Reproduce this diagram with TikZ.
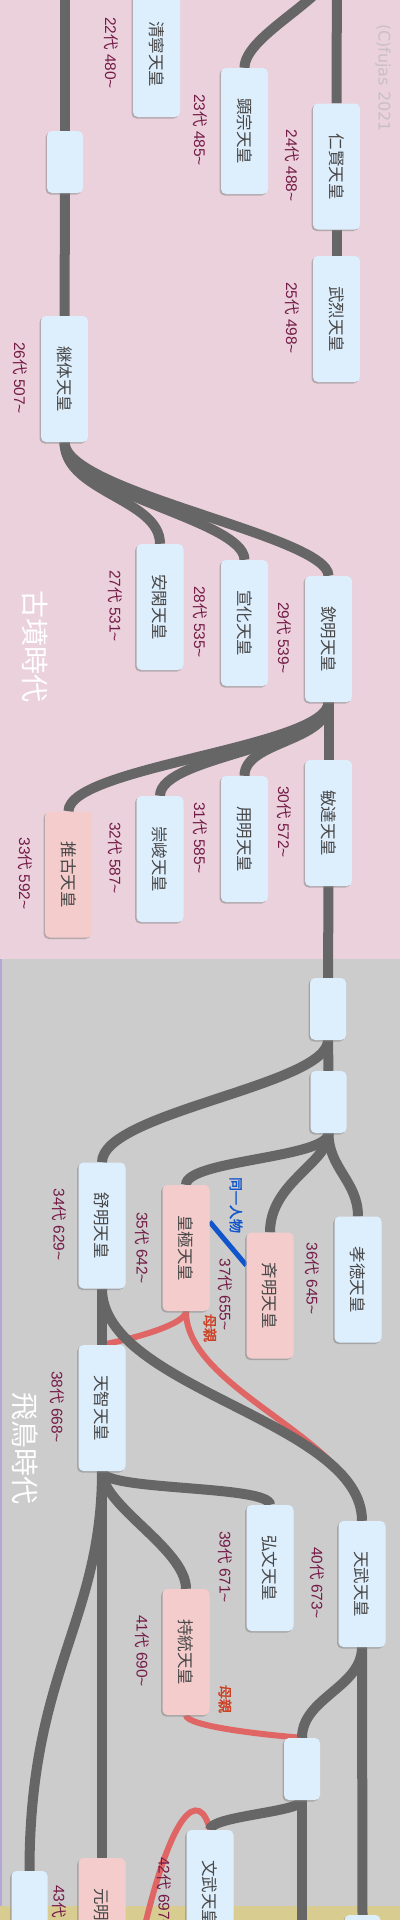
\documentclass[tikz,border=0pt]{standalone}
\usepackage{fontspec}
\setmainfont{Noto Sans CJK JP}[AutoFakeBold=2]
\newfontfamily\latinfont{Liberation Sans}
\newfontfamily\markfont{DejaVu Sans}
\usepackage{graphicx}
\usetikzlibrary{calc,shadows}
\definecolor{Line}{HTML}{666666}
\definecolor{Mother}{HTML}{E06666}
\definecolor{MotherText}{HTML}{CC4125}
\definecolor{Same}{HTML}{1155CC}
\definecolor{BoxBlue}{HTML}{DDEEFD}
\definecolor{BoxPink}{HTML}{F4CCCC}
\definecolor{Reign}{HTML}{741B47}
\definecolor{Kofun}{HTML}{EAD1DC}
\definecolor{Asuka}{HTML}{CCCCCC}
\definecolor{Nara}{HTML}{D9CC90}
\definecolor{Rim}{HTML}{B4A7D6}
\definecolor{Mark}{HTML}{C9BFC4}

\pgfdeclarelayer{bg}
\pgfdeclarelayer{edges}
\pgfsetlayers{bg,edges,main}

\newcommand\tate[1]{\rotatebox[origin=c]{-90}{#1}}
\newcommand\reignof[2]{{\latinfont #1}代{\latinfont\ #2\textasciitilde}}

\tikzset{
  emp/.style={fill=BoxBlue, rounded corners=5pt, minimum width=47pt, minimum height=126pt,
    inner sep=0pt, text=black!72, font=\fontsize{16.5}{16.5}\selectfont,
    drop shadow={shadow xshift=-1.5pt, shadow yshift=-1.5pt, opacity=.5}},
  empress/.style={emp, fill=BoxPink},
  blank/.style={emp, minimum width=36pt, minimum height=62pt},
  reign/.style={rotate=-90, anchor=west, inner sep=0pt, text=Reign, font=\fontsize{15.5}{16}\selectfont},
  era/.style={rotate=-90, inner sep=0pt, text=white, font=\fontsize{28}{28}\selectfont},
  note/.style={rotate=-90, inner sep=0pt, font=\bfseries\fontsize{14}{14}\selectfont},
  line/.style={Line, line width=10pt},
  mother/.style={Mother, line width=6pt},
  same/.style={Same, line width=5pt},
}

\begin{document}
\begin{tikzpicture}[x=1pt,y=-1pt]
  \useasboundingbox (0,0) rectangle (400,1920);
  \begin{pgfonlayer}{bg}
    \fill[Kofun] (0,0) rectangle (400,959);
    \fill[Asuka] (0,959) rectangle (400,1906);
    \fill[Nara] (0,1906) rectangle (400,1920);
    \draw[Rim, line width=1.5pt] (0.75,959) -- (0.75,1906);
  \end{pgfonlayer}
  \clip (0,0) rectangle (400,1920);

  % kofun
  \node[emp] (seinei) at (156.5,54) {\tate{清寧天皇}};
  \node[emp] (kenzo) at (244.5,131) {\tate{顕宗天皇}};
  \node[emp] (ninken) at (336.5,166.5) {\tate{仁賢天皇}};
  \node[emp] (buretsu) at (336.5,319) {\tate{武烈天皇}};
  \node[blank] (gapA) at (65,162) {};
  \node[emp] (keitai) at (64.5,379) {\tate{継体天皇}};
  \node[emp] (ankan) at (160,607) {\tate{安閑天皇}};
  \node[emp] (senka) at (244.5,623) {\tate{宣化天皇}};
  \node[emp] (kinmei) at (328.5,639) {\tate{欽明天皇}};
  \node[emp] (bidatsu) at (328.5,823) {\tate{敏達天皇}};
  \node[emp] (yomei) at (244.5,839) {\tate{用明天皇}};
  \node[emp] (sushun) at (160,859) {\tate{崇峻天皇}};
  \node[empress] (suiko) at (68.5,874.5) {\tate{推古天皇}};

  % asuka
  \node[blank] (gapB) at (328,1009) {};
  \node[blank] (gapC) at (328.5,1102) {};
  \node[emp] (jomei) at (102,1225.5) {\tate{舒明天皇}};
  \node[empress] (kogyoku) at (186,1248) {\tate{皇極天皇}};
  \node[empress] (saimei) at (270,1295.5) {\tate{斉明天皇}};
  \node[emp] (kotoku) at (358,1279.5) {\tate{孝徳天皇}};
  \node[emp] (tenji) at (102,1408) {\tate{天智天皇}};
  \node[emp] (kobun) at (270,1568) {\tate{弘文天皇}};
  \node[emp] (tenmu) at (362,1584) {\tate{天武天皇}};
  \node[empress] (jito) at (186,1652) {\tate{持統天皇}};
  \node[blank] (gapD) at (302,1769) {};
  \node[emp] (monmu) at (210,1893) {\tate{文武天皇}};
  \node[empress] (genmei) at (102,1921) {\tate{元明天皇}};
  \node[blank] (gapE) at (29.5,1902) {};
  \node[blank] (gapF) at (362.5,1946) {};

  % reigns
  \node[reign] (r22) at ($(seinei.north west)+(-22,26)$) {\reignof{22}{480}};
  \node[reign] (r23) at ($(kenzo.north west)+(-21,26)$) {\reignof{23}{485}};
  \node[reign] (r24) at ($(ninken.north west)+(-21,26)$) {\reignof{24}{488}};
  \node[reign] (r25) at ($(buretsu.north west)+(-21,26)$) {\reignof{25}{498}};
  \node[reign] (r26) at ($(keitai.north west)+(-21,26)$) {\reignof{26}{507}};
  \node[reign] (r27) at ($(ankan.north west)+(-21,26)$) {\reignof{27}{531}};
  \node[reign] (r28) at ($(senka.north west)+(-21,26)$) {\reignof{28}{535}};
  \node[reign] (r29) at ($(kinmei.north west)+(-21,26)$) {\reignof{29}{539}};
  \node[reign] (r30) at ($(bidatsu.north west)+(-21,26)$) {\reignof{30}{572}};
  \node[reign] (r31) at ($(yomei.north west)+(-21,26)$) {\reignof{31}{585}};
  \node[reign] (r32) at ($(sushun.north west)+(-21,26)$) {\reignof{32}{587}};
  \node[reign] (r33) at ($(suiko.north west)+(-20,26)$) {\reignof{33}{592}};
  \node[reign] (r34) at ($(jomei.north west)+(-19,26)$) {\reignof{34}{629}};
  \node[reign] (r35) at ($(kogyoku.north west)+(-20,27)$) {\reignof{35}{642}};
  \node[reign] (r36) at ($(kotoku.north west)+(-22,26)$) {\reignof{36}{645}};
  \node[reign] (r37) at ($(saimei.north west)+(-21,26)$) {\reignof{37}{655}};
  \node[reign] (r38) at ($(tenji.north west)+(-21,26)$) {\reignof{38}{668}};
  \node[reign] (r39) at ($(kobun.north west)+(-21,26)$) {\reignof{39}{671}};
  \node[reign] (r40) at ($(tenmu.north west)+(-21,26)$) {\reignof{40}{673}};
  \node[reign] (r41) at ($(jito.north west)+(-20,26)$) {\reignof{41}{690}};
  \node[reign] (r42) at ($(monmu.north west)+(-22,27)$) {\reignof{42}{697}};
  \node[reign] (r43) at ($(genmei.north west)+(-19,27)$) {\reignof{43}{707}};

  \node[era] (kofun) at (35,646) {古墳時代};
  \node[era] (asuka) at (25,1448) {飛鳥時代};
  \node[rotate=-90, inner sep=0pt, text=Mark, font=\markfont\fontsize{16}{16}\selectfont] (credit) at (383,78) {(C)fujas 2021};
  \node[note, text=Same] (samenote) at (236,1205) {同一人物};
  \node[note, text=MotherText] (mom1) at (210,1328) {母親};
  \node[note, text=MotherText] (mom2) at (225,1699) {母親};

  \begin{pgfonlayer}{edges}
    \clip (0,0) rectangle (400,1920);
    \coordinate (topL) at (65,-30);
    \coordinate (topR) at (337,-40);
    \coordinate (downD) at (302,1960);
    \coordinate (fromGenmei) at (135,1970);
    % mothers
    \draw[mother] (kogyoku.south) .. controls +(0,12) and +(40,-8) .. (tenji.north);
    \draw[mother] (kogyoku.south) .. controls +(0,80) and +(0,-80) .. (tenmu.north);
    \draw[mother] (jito.south) .. controls +(0,10) and +(-50,-4) .. (gapD.north);
    \draw[mother] (fromGenmei) .. controls (170,1800) and (200,1790) .. (monmu.north);
    \draw[same] ($(kogyoku.north east)+(0,37)$) -- ($(saimei.north west)+(0,33)$);
    % lines
    \draw[line] (topL) -- (gapA.north);
    \draw[line] (gapA.south) -- (keitai.north);
    \draw[line] (topR) -- (ninken.north);
    \draw[line] (ninken.south) -- (buretsu.north);
    \draw[line] (topR) .. controls +(0,35) and +(0,-34) .. (kenzo.north);
    \draw[line] (keitai.south) .. controls +(0,50) and +(0,-45) .. (ankan.north);
    \draw[line] (keitai.south) .. controls +(0,50) and +(0,-40) .. (senka.north);
    \draw[line] (keitai.south) .. controls +(0,50) and +(0,-40) .. (kinmei.north);
    \draw[line] (kinmei.south) -- (bidatsu.north);
    \draw[line] (kinmei.south) .. controls +(0,40) and +(0,-35) .. (yomei.north);
    \draw[line] (kinmei.south) .. controls +(0,45) and +(0,-40) .. (sushun.north);
    \draw[line] (kinmei.south) .. controls +(0,45) and +(0,-45) .. (suiko.north);
    \draw[line] (bidatsu.south) -- (gapB.north);
    \draw[line] (gapB.south) -- (gapC.north);
    \draw[line] (gapB.south) .. controls +(0,45) and +(0,-50) .. (jomei.north);
    \draw[line] (gapC.south) .. controls +(0,25) and +(0,-25) .. (kogyoku.north);
    \draw[line] (gapC.south) .. controls +(0,30) and +(0,-50) .. (saimei.north);
    \draw[line] (gapC.south) .. controls +(0,35) and +(0,-35) .. (kotoku.north);
    \draw[line] (jomei.south) -- (tenji.north);
    \draw[line] (jomei.south) .. controls +(0,100) and +(0,-100) .. (tenmu.north);
    \draw[line] (tenji.south) .. controls +(0,20) and +(0,-20) .. (kobun.north);
    \draw[line] (tenji.south) .. controls +(0,35) and +(0,-40) .. (jito.north);
    \draw[line] (tenji.south) -- (genmei.north);
    \draw[line] (tenji.south) .. controls +(0,150) and +(0,-200) .. (gapE.north);
    \draw[line] (tenmu.south) -- (gapF.north);
    \draw[line] (tenmu.south) .. controls +(0,40) and +(0,-40) .. (gapD.north);
    \draw[line] (gapD.south) -- (downD);
    \draw[line] (gapD.south) .. controls +(0,12) and +(0,-14) .. (monmu.north);
  \end{pgfonlayer}
\end{tikzpicture}
\end{document}
